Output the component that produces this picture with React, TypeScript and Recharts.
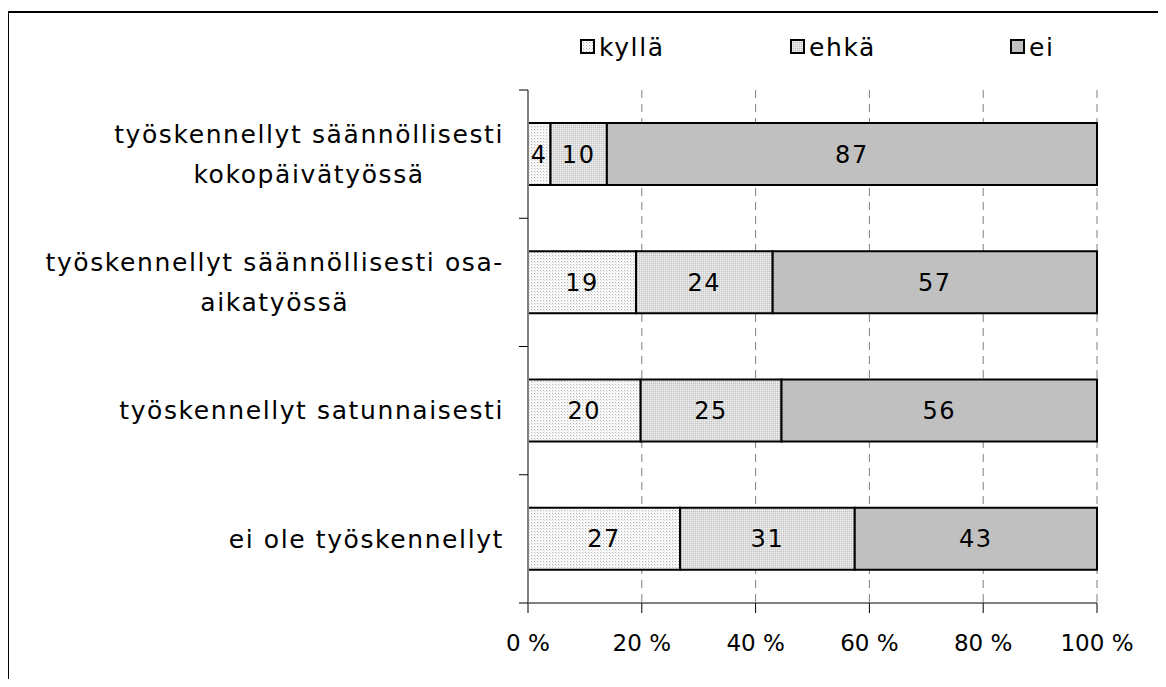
import { BarChart, Bar, XAxis, YAxis, CartesianGrid, LabelList } from "recharts";

const categories = [
  "työskennellyt säännöllisesti\nkokopäivätyössä",
  "työskennellyt säännöllisesti osa-\naikatyössä",
  "työskennellyt satunnaisesti",
  "ei ole työskennellyt",
];
const kylla = [4, 19, 20, 27];
const ehka = [10, 24, 25, 31];
const ei = [87, 57, 56, 43];
const xTicks = [0, 0.2, 0.4, 0.6, 0.8, 1];

const series = [
  { key: "kylla", label: "kyllä", fill: "url(#patKylla)" },
  { key: "ehka", label: "ehkä", fill: "url(#patEhka)" },
  { key: "ei", label: "ei", fill: "#c0c0c0" },
];

// shares of each row (rows sum to 100 or 101 because of rounding), raw values kept for the labels
const data = categories.map((name, i) => {
  const total = kylla[i] + ehka[i] + ei[i];
  return {
    name,
    kylla: kylla[i] / total,
    ehka: ehka[i] / total,
    ei: ei[i] / total,
    kyllaRaw: kylla[i],
    ehkaRaw: ehka[i],
    eiRaw: ei[i],
  };
});

const FONT = "DejaVu Sans, Verdana, sans-serif";
const LABEL_SIZE = 25;
const SPACING = 1.6;

let ctx: CanvasRenderingContext2D | null = null;
function textWidth(s: string): number {
  if (!ctx) ctx = document.createElement("canvas").getContext("2d");
  if (!ctx) return s.length * 14;
  ctx.font = `${LABEL_SIZE}px ${FONT}`;
  return ctx.measureText(s).width + s.length * SPACING;
}

// category label plus the Excel-style tick marks on the category boundaries
function CategoryTick({ x, y, payload, index, visibleTicksCount }: any) {
  const lines = String(payload.value).split("\n");
  const widest = Math.max(...lines.map(textWidth));
  const cx = x - 24 - widest / 2;
  const lineH = 40;
  const y0 = y - ((lines.length - 1) * lineH) / 2;
  const half = payload.offset ?? 0;
  const last = index === (visibleTicksCount ?? categories.length) - 1;
  return (
    <g>
      <line x1={x - 9} x2={x} y1={y - half} y2={y - half} stroke="#000" />
      {last && <line x1={x - 9} x2={x} y1={y + half} y2={y + half} stroke="#000" />}
      <text textAnchor="middle" fontFamily={FONT} fontSize={LABEL_SIZE} letterSpacing={SPACING} fill="#000">
        {lines.map((l, i) => (
          <tspan key={i} x={cx} y={y0 + i * lineH} dy="0.35em">{l}</tspan>
        ))}
      </text>
    </g>
  );
}

function LegendBox() {
  const pos = [580, 790, 1010];
  return (
    <div style={{ position: "absolute", top: 30, left: 0, width: 1166, height: 34, fontFamily: FONT, fontSize: LABEL_SIZE, letterSpacing: SPACING }}>
      {series.map((s, i) => (
        <div key={s.key} style={{ position: "absolute", left: pos[i], top: 0, display: "flex", alignItems: "center", height: 34 }}>
          <svg width={16} height={16} style={{ marginRight: 3 }}>
            <rect x={1} y={1} width={13} height={13} fill={s.fill} stroke="#000" strokeWidth={2} />
          </svg>
          <span>{s.label}</span>
        </div>
      ))}
    </div>
  );
}

export default function App() {
  return (
    <div style={{ position: "relative", width: 1166, height: 687, margin: -8, overflow: "hidden", background: "#fff" }}>
      <div style={{ position: "absolute", left: 7, top: 11, width: 1300, height: 900, border: "2px solid #000" }} />
      <svg width={0} height={0} style={{ position: "absolute" }}>
        <defs>
          <pattern id="patKylla" width={3} height={3} patternUnits="userSpaceOnUse">
            <rect width={3} height={3} fill="#fafafa" />
            <rect x={0} y={0} width={1} height={1} fill="#b4b4b4" />
            <rect x={1} y={1} width={1} height={1} fill="#dedede" />
          </pattern>
          <pattern id="patEhka" width={2} height={2} patternUnits="userSpaceOnUse">
            <rect width={2} height={2} fill="#dadada" />
            <rect x={0} y={0} width={1} height={1} fill="#f4f4f4" />
            <rect x={1} y={1} width={1} height={1} fill="#c8c8c8" />
          </pattern>
        </defs>
      </svg>
      <div style={{ position: "absolute", left: 0, top: 0 }}>
        <BarChart
          width={1166}
          height={687}
          data={data}
          layout="vertical"
          barSize={62}
          margin={{ top: 90, right: 69, bottom: 34, left: 0 }}
        >
          <CartesianGrid horizontal={false} stroke="#808080" strokeDasharray="8 6" />
          <XAxis
            type="number"
            domain={[0, 1]}
            ticks={xTicks}
            tickFormatter={(v: number) => `${Math.round(v * 100)} %`}
            axisLine={{ stroke: "#808080", strokeWidth: 2 }}
            tickLine={{ stroke: "#000" }}
            tickSize={10}
            tickMargin={22}
            height={50}
            tick={{ fontFamily: FONT, fontSize: 23, fill: "#000" }}
          />
          <YAxis
            type="category"
            dataKey="name"
            width={528}
            axisLine={{ stroke: "#808080", strokeWidth: 2 }}
            tickLine={false}
            tickSize={0}
            tickMargin={0}
            tick={<CategoryTick />}
          />
          {series.map((s) => (
            <Bar key={s.key} dataKey={s.key} stackId="a" fill={s.fill} stroke="#000" strokeWidth={2} isAnimationActive={false}>
              <LabelList dataKey={`${s.key}Raw`} position="center" fill="#000" fontFamily={FONT} fontSize={24} letterSpacing={SPACING} />
            </Bar>
          ))}
        </BarChart>
      </div>
      <LegendBox />
    </div>
  );
}
